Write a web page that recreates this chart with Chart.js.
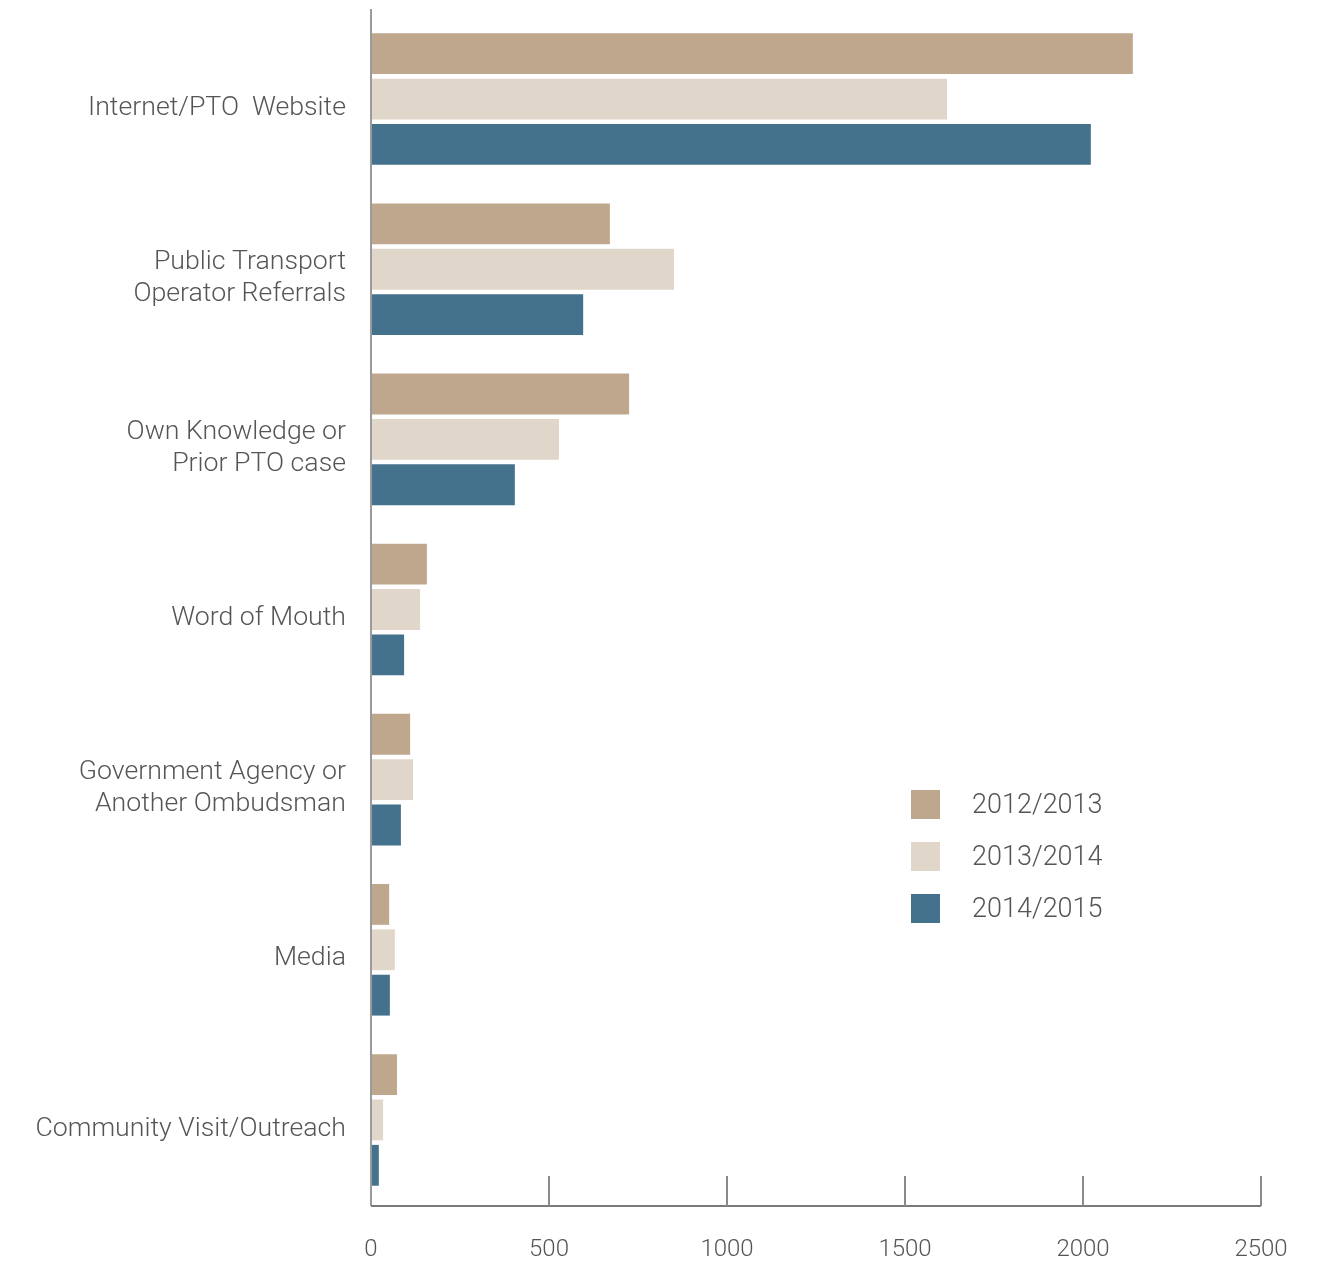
<!DOCTYPE html>
<html>
<head>
<meta charset="utf-8">
<script src="https://cdn.jsdelivr.net/npm/chart.js@4"></script>
<style>
  body { margin: 0; background: #fff; }
  #wrap { position: relative; width: 1326px; height: 1262px; }
  #legend { position: absolute; left: 911px; top: 788px; font-family: Roboto, sans-serif; font-weight: 300; font-size: 27px; color: #555; }
  #legend div { height: 52px; display: flex; align-items: flex-start; }
  #legend span.box { display: inline-block; width: 29px; height: 29px; margin-right: 32px; margin-top: 2px; }
</style>
</head>
<body>
<div id="wrap">
  <canvas id="referralChart" width="1326" height="1262"></canvas>
  <div id="legend"></div>
</div>
<script>
const categories = [
    ['Internet/PTO  Website'],
    ['Public Transport', 'Operator Referrals'],
    ['Own Knowledge or', 'Prior PTO case'],
    ['Word of Mouth'],
    ['Government Agency or', 'Another Ombudsman'],
    ['Media'],
    ['Community Visit/Outreach']
];
const years = ['2012/2013', '2013/2014', '2014/2015'];
const values2012 = [2140, 671, 725, 157, 110, 51, 73];
const values2013 = [1618, 851, 528, 138, 118, 67, 34];
const values2014 = [2022, 596, 404, 93, 84, 53, 22];
const colours = ['#bfa78d', '#e0d6ca', '#44718c'];
const xTicks = [0, 500, 1000, 1500, 2000, 2500];

// axis lines and the little upward ticks on the x axis
const axisLines = {
    id: 'axisLines',
    afterDraw(chart) {
        const ctx = chart.ctx;
        const area = chart.chartArea;
        const x = chart.scales.x;
        ctx.save();
        ctx.lineWidth = 2;
        ctx.strokeStyle = '#9a9a9a';
        ctx.beginPath();
        ctx.moveTo(area.left, area.top - 5);
        ctx.lineTo(area.left, area.bottom + 1);
        ctx.stroke();
        ctx.strokeStyle = '#7a7a7a';
        ctx.beginPath();
        ctx.moveTo(area.left, area.bottom + 1);
        ctx.lineTo(area.right, area.bottom + 1);
        ctx.stroke();
        ctx.strokeStyle = '#8a8a8a';
        xTicks.forEach((t) => {
            if (t === 0) return;
            const px = Math.round(x.getPixelForValue(t));
            ctx.beginPath();
            ctx.moveTo(px, area.bottom + 1);
            ctx.lineTo(px, area.bottom - 29);
            ctx.stroke();
        });
        ctx.restore();
    }
};

const ctx = document.getElementById('referralChart').getContext('2d');
const chart = new Chart(ctx, {
    type: 'bar',
    data: {
        labels: categories,
        datasets: [
            { label: years[0], data: values2012, backgroundColor: colours[0] },
            { label: years[1], data: values2013, backgroundColor: colours[1] },
            { label: years[2], data: values2014, backgroundColor: colours[2] }
        ]
    },
    options: {
        indexAxis: 'y',
        responsive: false,
        animation: false,
        layout: { padding: { top: 14, right: 65, bottom: 0, left: 0 } },
        plugins: {
            legend: { display: false },
            tooltip: { enabled: false }
        },
        scales: {
            x: {
                min: 0,
                max: 2500,
                afterBuildTicks: (scale) => {
                    scale.ticks = xTicks.map((v) => ({ value: v }));
                },
                grid: { display: false, drawTicks: false },
                border: { display: false },
                ticks: {
                    padding: 31,
                    color: '#555',
                    font: { family: 'Roboto', weight: 300, size: 24 },
                    callback: (v) => String(v)
                },
                afterFit: (scale) => {
                    scale.height = 57;
                    scale.paddingLeft = 0;
                    scale.paddingRight = 0;
                }
            },
            y: {
                grid: { display: false, drawTicks: false },
                border: { display: false },
                ticks: {
                    padding: 25,
                    labelOffset: 9,
                    color: '#555',
                    font: { family: 'Roboto', weight: 300, size: 26.7, lineHeight: 1.2 }
                },
                afterFit: (scale) => {
                    scale.width = 371;
                    scale.paddingTop = 0;
                    scale.paddingBottom = 0;
                }
            }
        }
    },
    plugins: [axisLines]
});

document.getElementById('legend').innerHTML = years.map((y, i) =>
    `<div><span class="box" style="background:${colours[i]}"></span>${y}</div>`
).join('');
</script>
</body>
</html>
